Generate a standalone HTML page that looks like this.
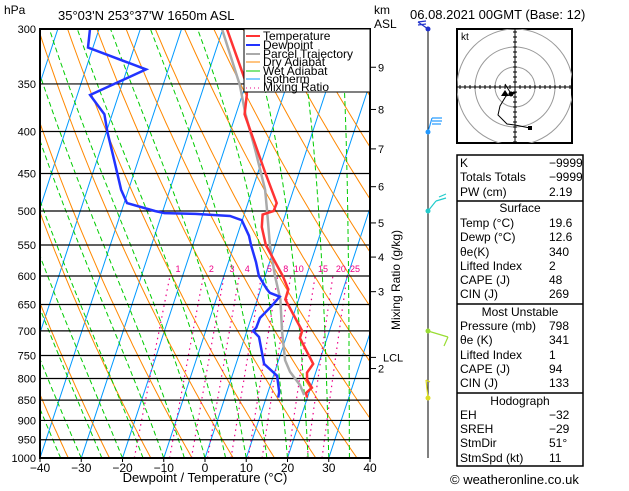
<!DOCTYPE html>
<html><head><meta charset="utf-8"><style>
body{margin:0;background:#fff;width:629px;height:486px;overflow:hidden;font-family:"Liberation Sans",sans-serif}
svg text{font-family:"Liberation Sans","DejaVu Sans",sans-serif}
</style></head><body>
<svg id="chart" width="629" height="486" xmlns="http://www.w3.org/2000/svg">
<defs><clipPath id="pc"><rect x="40" y="29" width="330" height="429"/></clipPath>
<clipPath id="hc"><rect x="457" y="29" width="115" height="114"/></clipPath></defs>
<g id="bg" clip-path="url(#pc)"></g>
<g id="grid"></g>
<g id="series" clip-path="url(#pc)"></g>
<rect x="40" y="29" width="330" height="429" fill="none" stroke="#000" stroke-width="2"/>
<g id="axes"></g>
<text x="4" y="14" font-size="12">hPa</text>
<text x="58" y="20" font-size="13">35°03'N  253°37'W  1650m  ASL</text>
<text x="374" y="14" font-size="12">km</text>
<text x="374" y="28" font-size="12">ASL</text>
<text x="410" y="19" font-size="13">06.08.2021  00GMT  (Base: 12)</text>
<text x="205" y="482" font-size="13" text-anchor="middle">Dewpoint / Temperature (°C)</text>
<text transform="translate(400,280) rotate(-90)" font-size="12" text-anchor="middle">Mixing Ratio (g/kg)</text>
<g>
<rect x="244" y="29" width="126" height="63" fill="#fff" stroke="#000" stroke-width="1"/>
<g font-size="12">
<line x1="246" x2="260" y1="36" y2="36" stroke="#f33" stroke-width="2"/><text x="263" y="40">Temperature</text>
<line x1="246" x2="260" y1="45" y2="45" stroke="#23f" stroke-width="2"/><text x="263" y="49">Dewpoint</text>
<line x1="246" x2="260" y1="54" y2="54" stroke="#aaa" stroke-width="2"/><text x="263" y="58">Parcel Trajectory</text>
<line x1="246" x2="260" y1="62" y2="62" stroke="#f80"/><text x="263" y="66">Dry Adiabat</text>
<line x1="246" x2="260" y1="71" y2="71" stroke="#0c0"/><text x="263" y="75">Wet Adiabat</text>
<line x1="246" x2="260" y1="79" y2="79" stroke="#09f"/><text x="263" y="83">Isotherm</text>
<line x1="246" x2="260" y1="88" y2="88" stroke="#e08" stroke-dasharray="1,3"/><text x="263" y="91">Mixing Ratio</text>
</g></g>
<g id="wind"><line x1="428" y1="29" x2="428" y2="458" stroke="#000" stroke-width="1"/></g>
<g>
<rect x="457" y="29" width="115" height="114" fill="#fff" stroke="#000" stroke-width="2"/>
<g fill="none" stroke="#999" clip-path="url(#hc)"><circle cx="515" cy="87" r="20"/><circle cx="515" cy="87" r="40"/><circle cx="515" cy="87" r="58"/></g>
<line x1="457" x2="572" y1="87" y2="87" stroke="#000"/><line x1="515" x2="515" y1="29" y2="143" stroke="#000"/>
<g id="hticks" stroke="#000"></g>
<text x="461" y="40" font-size="10">kt</text>
<polyline points="505,84 510,92 515,93 506,96 500,106 498,115 507,124 515,125 530,128" fill="none" stroke="#000"/>
<rect x="528" y="126" width="4" height="4" fill="#000"/><circle cx="511" cy="94" r="2.5" fill="#000"/><polygon points="505,90 509,96 501,96" fill="#000"/>
</g>
<g font-size="12">
<rect x="457" y="155" width="126" height="311" fill="#fff" stroke="#000" stroke-width="1.5"/>
<line x1="457" x2="583" y1="201" y2="201" stroke="#000" stroke-width="1.5"/>
<line x1="457" x2="583" y1="304" y2="304" stroke="#000" stroke-width="1.5"/>
<line x1="457" x2="583" y1="393" y2="393" stroke="#000" stroke-width="1.5"/>
<g id="tbl"></g>
</g>
<text x="450" y="484" font-size="13">© weatheronline.co.uk</text>
</svg>
<script>
// ---- data ----
const tempP=[300,351,361,381,450,489,500,505,523,550,600,623,641,700,714,768,787,803,821,833,844];
const tempT=[-29.0,-19.7,-18.9,-17.9,-8.1,-3.0,-3.1,-5.5,-4.7,-2.3,4.3,6.7,6.8,13.4,13.4,18.7,17.9,18.5,20.3,19.3,19.9];
const dewP=[300,316,336,361,381,400,433,471,489,500,503,504,507,513,536,550,577,600,622,629,636,654,675,694,700,712,768,794,831,844];
const dewT=[-62.2,-61.2,-45.4,-56.9,-51.9,-49.8,-45.9,-41.8,-39.3,-31.9,-29.4,-21.9,-13.3,-10.1,-7.1,-5.9,-3.3,-1.5,1.4,2.5,5.2,3.9,2.1,2.0,1.5,3.4,6.8,10.9,12.7,12.9];
const parcelP=[300,351,381,421,471,500,550,600,641,700,760,785,815,838];
const parcelT=[-30.2,-21.4,-17.7,-12.5,-6.9,-4.7,-1.3,2.4,5.6,8.5,11.6,13.7,17.2,19.0];
const pressureTicks=[300,350,400,450,500,550,600,650,700,750,800,850,900,950,1000];
const tempTicks=[-40,-30,-20,-10,0,10,20,30,40];
const mixRatios=[1,2,3,4,6,8,10,15,20,25];
const mixLabels=["1","2","3","4","5","8","10","15","20","25"];
const kmLevels=[9,8,7,6,5,4,3,2];
const kmP=[334,376,420,467,517,569,627,778];
const lclP=754;
// ---- axis functions ----
const X0=40,X1=370,Y0=29,Y1=458,SK=0.33,PX=4.125;
function yP(p){return Y0+Math.log(p/300)/Math.log(1000/300)*(Y1-Y0);}
function xT(t,p){return X0+(t+40)*PX+(Y1-yP(p))*SK;}
const NS="http://www.w3.org/2000/svg";
function mk(tag,at,parent){const e=document.createElementNS(NS,tag);for(const k in at)e.setAttribute(k,at[k]);parent.appendChild(e);return e;}
const bg=document.getElementById('bg'),grid=document.getElementById('grid'),ser=document.getElementById('series'),axes=document.getElementById('axes');
function line(pts,stroke,w,dash,parent,name){const e=mk('polyline',{points:pts.map(q=>q[0].toFixed(1)+','+q[1].toFixed(1)).join(' '),fill:'none',stroke:stroke,'stroke-width':w},parent);if(dash)e.setAttribute('stroke-dasharray',dash);

return e;}
for(let t=-120;t<=40;t+=10){line([[xT(t,1000),yP(1000)],[xT(t,250),yP(250)]],'#09f',1,null,bg,'isotherm');}
for(let th=230;th<=480;th+=10){const pts=[];for(let p=1000;p>=290;p-=10){pts.push([xT(th*Math.pow(p/1000,0.286)-273.15,p),yP(p)]);}line(pts,'#f80',1,null,bg,'dry-adiabat');}
function es(t){return 6.112*Math.exp(17.67*t/(t+243.5));}
for(let t0=-40;t0<=40;t0+=5){let T=t0+273.15;const pts=[];for(let p=1000;p>=290;p-=5){pts.push([xT(T-273.15,p),yP(p)]);const rs=0.622*es(T-273.15)/(p-es(T-273.15));const dT=(287*T+2.5e6*rs)/(p*(1004+2.5e6*2.5e6*rs*0.622/(287*T*T)));T-=dT*5;}line(pts,'#0c0',1,'5,3',bg,'wet-adiabat');}
mixRatios.forEach((w,i)=>{const pts=[];for(let p=1000;p>=600;p-=10){const e=w*p/(622+w);const l=Math.log(e/6.112);pts.push([xT(243.5*l/(17.67-l),p),yP(p)]);}line(pts,'#e08',1.2,'1.5,4',bg,'mixing-ratio-line');
const t=mk('text',{x:pts[pts.length-1][0]+8,y:yP(600)-4,'font-size':9,fill:'#e08','text-anchor':'middle'},axes);t.textContent=mixLabels[i];

});
pressureTicks.forEach(p=>{const y=yP(p);const l=mk('line',{x1:X0,x2:X1,y1:y,y2:y,stroke:'#000','stroke-width':1.2},grid);


const t=mk('text',{x:36,y:y+4,'font-size':11,'text-anchor':'end'},axes);t.textContent=p;

});
tempTicks.forEach(v=>{const x=X0+(v+40)*PX;mk('line',{x1:x,x2:x,y1:Y1,y2:Y1+4,stroke:'#000'},axes);const t=mk('text',{x:x,y:Y1+14,'font-size':12,'text-anchor':'middle'},axes);t.textContent=v<0?'\u2212'+(-v):v;

});
kmLevels.forEach((k,i)=>{const y=yP(kmP[i]);mk('line',{x1:X1,x2:X1+6,y1:y,y2:y,stroke:'#000'},axes);const t=mk('text',{x:X1+8,y:y+4,'font-size':11},axes);t.textContent=k;

});
{const y=yP(lclP);mk('line',{x1:X1,x2:X1+6,y1:y,y2:y,stroke:'#000'},axes);const t=mk('text',{x:X1+13,y:y+4,'font-size':11},axes);t.textContent='LCL';

}
line(parcelP.map((p,i)=>[xT(parcelT[i],p),yP(p)]),'#aaa',2.5,null,ser,'parcel-trajectory');
line(tempP.map((p,i)=>[xT(tempT[i],p),yP(p)]),'#f33',2.5,null,ser,'temperature-line');
line(dewP.map((p,i)=>[xT(dewT[i],p),yP(p)]),'#23f',2.5,null,ser,'dewpoint-line');
const ht=document.getElementById('hticks');for(let d=-55;d<=55;d+=5){mk('line',{x1:515+d,x2:515+d,y1:85,y2:89},ht);mk('line',{x1:513,x2:517,y1:87+d,y2:87+d},ht);}
const wd=document.getElementById('wind');
[[29,'#23c',[[428,29,418,22],[418,22,426,21],[418,25,426,24]]],[132,'#29f',[[428,132,432,118],[432,118,442,118],[432,121,442,121],[432,124,441,124]]],[211,'#2cc',[[428,211,436,201],[436,201,446,198],[439,197,446,194]]],[331,'#9d3',[[428,331,448,337],[448,337,444,346]]],[398,'#dd2',[[428,398,426,380],[426,380,430,382]]]].forEach(b=>{mk('circle',{cx:428,cy:b[0],r:2.5,fill:b[1]},wd);b[2].forEach(s=>mk('line',{x1:s[0],y1:s[1],x2:s[2],y2:s[3],stroke:b[1],'stroke-width':1.2},wd));});
const tbl=document.getElementById('tbl');
const rows=[[167,'K','-9999'],[181,'Totals Totals','-9999'],[196,'PW (cm)','2.19'],[212,'Surface',null],[227,'Temp (°C)','19.6'],[241,'Dewp (°C)','12.6'],[256,'θe(K)','340'],[270,'Lifted Index','2'],[284,'CAPE (J)','48'],[298,'CIN (J)','269'],[316,'Most Unstable',null],[330,'Pressure (mb)','798'],[344,'θe (K)','341'],[359,'Lifted Index','1'],[373,'CAPE (J)','94'],[387,'CIN (J)','133'],[405,'Hodograph',null],[419,'EH','-32'],[433,'SREH','-29'],[447,'StmDir','51°'],[462,'StmSpd (kt)','11']];
rows.forEach(r=>{if(r[2]===null){const t=mk('text',{x:520,y:r[0],'text-anchor':'middle'},tbl);t.textContent=r[1];}else{const a=mk('text',{x:460,y:r[0]},tbl);a.textContent=r[1];const b=mk('text',{x:549,y:r[0]},tbl);b.textContent=r[2].replace('-','\u2212');}});
</script>
</body></html>
